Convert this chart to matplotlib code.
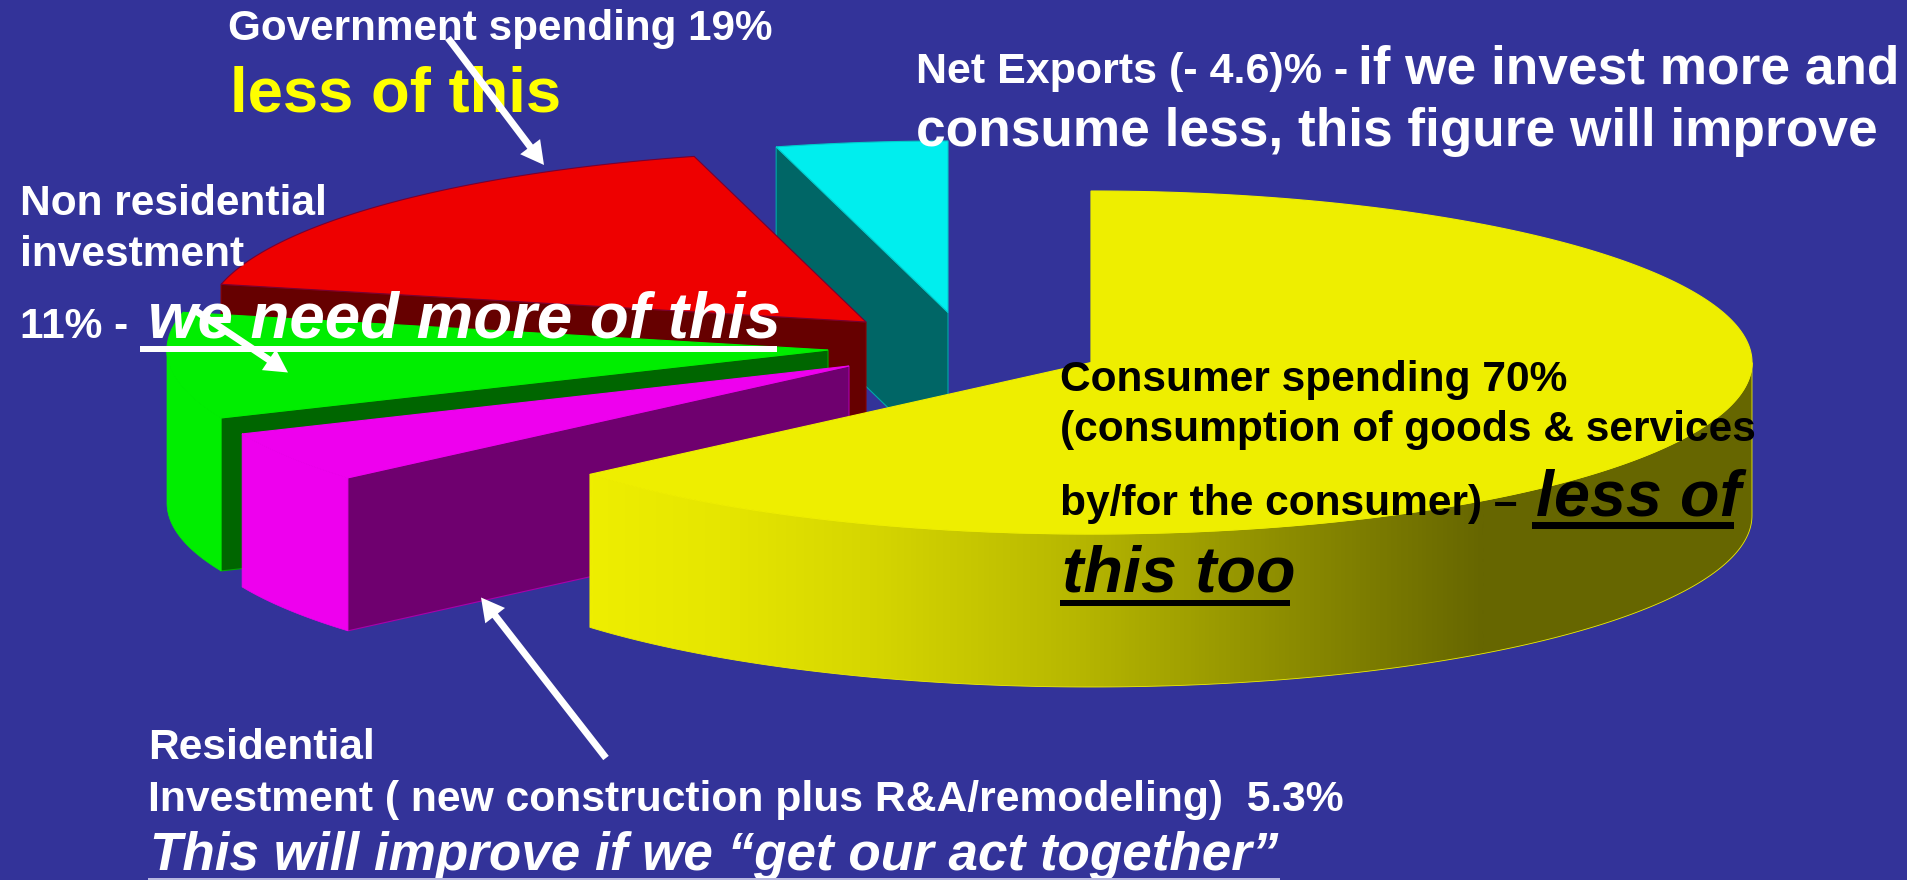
import numpy as np
from matplotlib import pyplot as plt
from matplotlib.colors import LinearSegmentedColormap
from matplotlib.patches import FancyArrow, Polygon, Rectangle

# Slices, clockwise from 12 o'clock. Share of the pie uses the absolute value
slice_names = ["Consumer spending", "Residential investment", "Non residential investment",
               "Government spending", "Net exports"]
slice_values = [70, 5.3, 11, 19, 4.6]

top_colors = ["#EEEE00", "#EE00EE", "#00EE00", "#EE0000", "#00EEEE"]
wall_colors = ["#666600", "#6F006F", "#006600", "#660000", "#006666"]
wall_edges = ["#EEEE00", "#AA00AA", "#00AA00", "#880000", "#00AAAA"]
top_edges = ["#EEEE00", "#EE00EE", "#00EE00", "#770033", "#00CCCC"]

# Apex of each exploded slice, in picture pixels
apexes = [(1091, 362.5), (849, 366), (828, 350), (866, 322), (948, 312.5)]
RX, RY, DEPTH = 661, 171.5, 153
BG = "#333399"

# Shading of the yellow side, left to right, ends at SHADE_END px
SHADE_START, SHADE_END = 591, 1484
shade_x = [591, 720, 870, 1070, 1300, 1484]
shade_colors = ["#EEEE00", "#E6E600", "#D6D600", "#B8B800", "#8A8A00", "#666600"]

plt.rcParams["font.family"] = ["Liberation Sans", "DejaVu Sans"]
plt.rcParams["font.weight"] = "bold"


def rim(apex, theta):
    """Point(s) on the top rim, theta in degrees clockwise from the top."""
    t = np.radians(theta)
    return apex[0] + RX * np.sin(t), apex[1] - RY * np.cos(t)


def label(x, y, s, size, color="white", style="normal"):
    ax.text(x, y, s, fontsize=size, color=color, style=style, weight="bold",
            ha="left", va="baseline", zorder=50)


def underline(x0, x1, y0, y1, color):
    ax.add_patch(Rectangle((x0, y0), x1 - x0, y1 - y0, facecolor=color, edgecolor="none", zorder=51))


def arrow(x0, y0, x1, y1):
    ax.add_patch(FancyArrow(x0, y0, x1 - x0, y1 - y0, width=7, head_width=25, head_length=23,
                            length_includes_head=True, facecolor="white", edgecolor="none", zorder=60))


fig = plt.figure(figsize=(19.07, 8.8), dpi=100, facecolor=BG)
ax = fig.add_axes([0, 0, 1, 1])
ax.set_facecolor(BG)
ax.axis("off")

shares = np.abs(slice_values) / np.sum(np.abs(slice_values)) * 360
ends = np.cumsum(shares)
starts = ends - shares

# back to front
z = 5
for i in [4, 3, 2, 1, 0]:
    apex = apexes[i]
    a0, a1 = starts[i], ends[i]

    # cut wall at the clockwise start of the slice
    sx, sy = rim(apex, a0)
    ax.add_patch(Polygon([apex, (sx, sy), (sx, sy + DEPTH), (apex[0], apex[1] + DEPTH)],
                         facecolor=wall_colors[i], edgecolor=wall_edges[i], lw=0.8, zorder=z))
    z += 1

    # outer side, only the front half of the rim shows
    lo, hi = max(a0, 90), min(a1, 270)
    if lo < hi:
        th = np.linspace(lo, hi, 200)
        rx, ry = rim(apex, th)
        pts = np.r_[np.c_[rx, ry], np.c_[rx[::-1], ry[::-1] + DEPTH]]
        if i == 0:
            side = Polygon(pts, facecolor="none", edgecolor=top_colors[i], lw=0.6, zorder=z + 1)
            ax.add_patch(side)
            stops = [(x - SHADE_START) / (SHADE_END - SHADE_START) for x in shade_x]
            cmap = LinearSegmentedColormap.from_list("side", list(zip(stops, shade_colors)))
            im = ax.imshow(np.linspace(0, 1, 512)[None, :], cmap=cmap, aspect="auto",
                           extent=(rx.min(), SHADE_END, 880, 0), zorder=z)
            im2 = ax.imshow(np.ones((1, 2)), cmap=cmap, vmin=0, vmax=1, aspect="auto",
                            extent=(SHADE_END, rx.max() + 1, 880, 0), zorder=z)
            im.set_clip_path(side)
            im2.set_clip_path(side)
            z += 1
        else:
            ax.add_patch(Polygon(pts, facecolor=top_colors[i], edgecolor=top_colors[i], lw=0.5, zorder=z))
        z += 1

    # top surface
    th = np.linspace(a0, a1, 300)
    rx, ry = rim(apex, th)
    ax.add_patch(Polygon(np.r_[[apex], np.c_[rx, ry]], facecolor=top_colors[i],
                         edgecolor=top_edges[i], lw=0.8, zorder=z))
    z += 1

ax.set_xlim(0, 1907)
ax.set_ylim(880, 0)

# Government spending
label(228, 40, "Government spending 19%", 30.4)
label(230, 112, "less of this", 45.6, color="#FFFF00")

# Net exports
label(916, 83, "Net Exports (- 4.6)% -", 31)
label(1358, 83, "if we invest more and", 38.3)
label(916, 146, "consume less, this figure will improve", 38.3)

# Non residential
label(20, 215, "Non residential", 30.6)
label(20, 266, "investment", 30.6)
label(20, 338, "11% -", 30.6)
label(148, 338, "we need more of this", 45.8, style="italic")
underline(140, 777, 346.5, 352.5, "white")

# Consumer spending
label(1060, 391, "Consumer spending 70%", 30.6, color="black")
label(1060, 441, "(consumption of goods & services", 30.6, color="black")
label(1060, 515, "by/for the consumer) \u2013", 30.6, color="black")
label(1536, 515, "less of", 46.5, color="black", style="italic")
underline(1532, 1734, 522, 529, "black")
label(1062, 592, "this too", 46.5, color="black", style="italic")
underline(1060, 1290, 600, 606, "black")

# Residential
label(148, 759, "Residential", 30.5)
label(148, 811, "Investment ( new construction plus R&A/remodeling)  5.3%", 30.7)
label(150, 870, "This will improve if we \u201cget our act together\u201d", 38.2, style="italic")
underline(148, 1280, 878, 880, "#B8B8E0")

arrow(448, 38, 544, 165)
arrow(196, 311, 288, 372.5)
arrow(606, 758, 481, 597.5)

fig.savefig("out.png", dpi=100, facecolor=BG)
